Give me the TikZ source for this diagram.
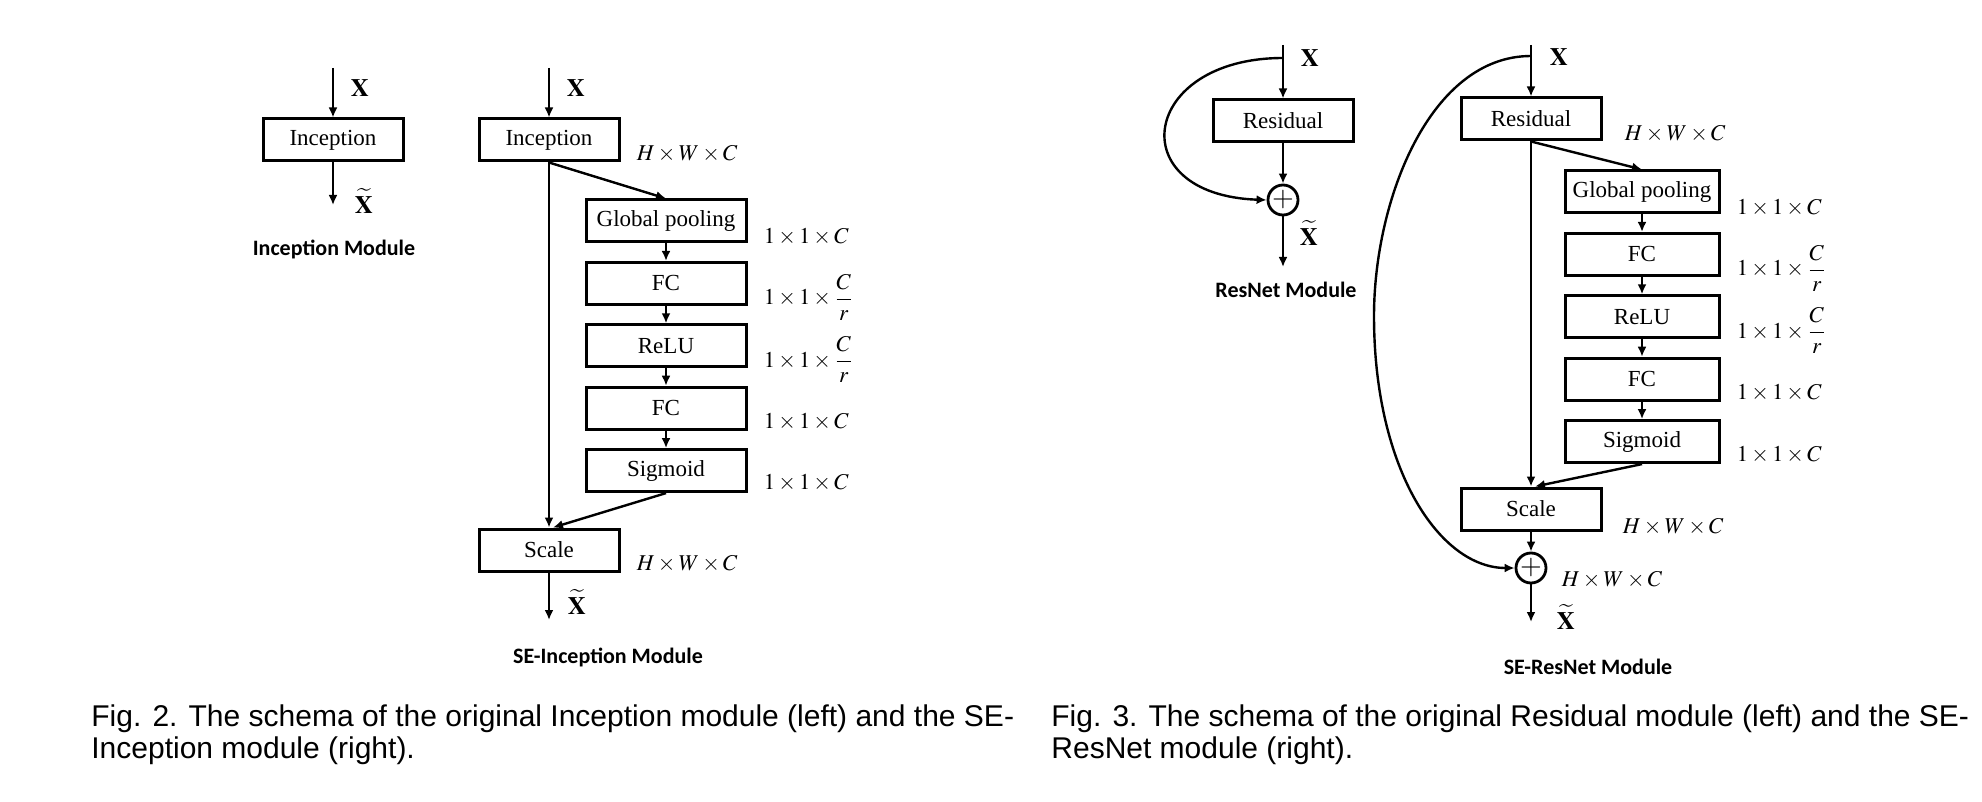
\documentclass[tikz,border=0pt]{standalone}
\usepackage{amsmath}
\usepackage{mathptmx}
\usepackage[no-math]{fontspec}
\setmainfont{Liberation Serif}
\newfontfamily\capfont{Liberation Sans}
\newfontfamily\titlefont{Carlito}
\usetikzlibrary{arrows.meta,calc,positioning}
\tikzset{
  seblock/.style={draw, line width=1.5pt, minimum width=70pt, minimum height=21pt, inner sep=2pt, align=center, font=\fontsize{11.5}{13}\selectfont},
  sewide/.style={seblock, minimum width=80pt},
  sesum/.style={draw, circle, line width=1.4pt, minimum size=15pt, inner sep=0pt, font=\fontsize{14}{14}\selectfont},
  searrow/.style={-{Latex[length=5pt,width=4.5pt]}, line width=1.2pt},
  sedim/.style={font=\fontsize{11.3}{13}\selectfont, inner sep=1pt},
  sevar/.style={font=\fontsize{12.5}{14}\selectfont, inner sep=0pt},
  setitle/.style={font=\titlefont\bfseries\fontsize{11}{13}\selectfont, inner sep=0pt},
  secaption/.style={font=\capfont\fontsize{15}{16}\selectfont, align=left, anchor=north west, inner sep=0pt}
}

\begin{document}
\begin{tikzpicture}[x=0.5pt, y=-0.5pt, node distance=8.7pt and 7pt]
  \useasboundingbox (0,0) rectangle (1982,802);
  % Inception module
  \node[seblock] (inc) at (333,140) {Inception};
  \coordinate (incin) at (333,68);
  \coordinate (incout) at (333,205);
  \draw[searrow] (incin) -- (inc);
  \draw[searrow] (inc) -- (incout);
  \node[sevar] (incx) at (360,88) {$\mathbf{X}$};
  \node[sevar] (incxt) at (364,201) {$\widetilde{\mathbf{X}}$};
  \node[setitle] (inctitle) at (334,249) {Inception Module};

  % SE-Inception module
  \node[seblock] (seinc) at (549,140) {Inception};
  \coordinate (seincin) at (549,68);
  \node[sevar] (seincx) at (576,88) {$\mathbf{X}$};
  \node[sedim, right=7pt of seinc, yshift=-7pt] (seincdim) {$H\times W\times C$};
  \node[sewide] (gp) at (666,221) {Global pooling};
  \node[sewide, below=of gp] (fc) {FC};
  \node[sewide, below=of fc] (relu) {ReLU};
  \node[sewide, below=of relu] (fcb) {FC};
  \node[sewide, below=of fcb] (sig) {Sigmoid};
  \node[sedim, right=of gp, yshift=-8pt] (gpdim) {$1\times 1\times C$};
  \node[sedim, right=of fc, yshift=-7pt] (fcdim) {$1\times 1\times \dfrac{C}{r}$};
  \node[sedim, right=of relu, yshift=-7pt] (reludim) {$1\times 1\times \dfrac{C}{r}$};
  \node[sedim, right=of fcb, yshift=-7pt] (fcbdim) {$1\times 1\times C$};
  \node[sedim, right=of sig, yshift=-6pt] (sigdim) {$1\times 1\times C$};
  \node[seblock] (scale) at (549,550) {Scale};
  \node[sedim, right=7pt of scale, yshift=-7pt] (scaledim) {$H\times W\times C$};
  \coordinate (seincout) at (549,620);
  \draw[searrow] (seincin) -- (seinc);
  \draw[searrow] (seinc.south) -- (gp.north);
  \draw[searrow] (gp) -- (fc);
  \draw[searrow] (fc) -- (relu);
  \draw[searrow] (relu) -- (fcb);
  \draw[searrow] (fcb) -- (sig);
  \draw[searrow] (seinc.south) -- (scale.north);
  \draw[searrow] (sig.south) -- ([xshift=2pt]scale.north);
  \draw[searrow] (scale) -- (seincout);
  \node[sevar] (seincxt) at (577,602) {$\widetilde{\mathbf{X}}$};
  \node[setitle] (seinctitle) at (608,657) {SE-Inception Module};

  % ResNet module
  \node[seblock] (res) at (1283,121) {Residual};
  \coordinate (resin) at (1283,45);
  \coordinate (restap) at (1283,58);
  \node[sesum] (ressum) at (1283,200) {$+$};
  \coordinate (resout) at (1283,267);
  \draw[searrow] (resin) -- (res);
  \draw[searrow] (res) -- (ressum);
  \draw[searrow] (ressum) -- (resout);
  \draw[searrow] (restap) .. controls (1140,58) and (1120,195) .. (ressum.west);
  \node[sevar] (resx) at (1310,58) {$\mathbf{X}$};
  \node[sevar] (resxt) at (1309,233) {$\widetilde{\mathbf{X}}$};
  \node[setitle] (restitle) at (1286,290) {ResNet Module};

  % SE-ResNet module
  \node[seblock] (seres) at (1531,119) {Residual};
  \coordinate (seresin) at (1531,45);
  \coordinate (serestap) at (1531,56);
  \node[sevar] (seresx) at (1559,57) {$\mathbf{X}$};
  \node[sedim, right=10pt of seres, yshift=-7.5pt] (seresdim) {$H\times W\times C$};
  \node[sewide, minimum width=77pt] (gp2) at (1642,192) {Global pooling};
  \node[sewide, minimum width=77pt, below=of gp2] (fc2) {FC};
  \node[sewide, minimum width=77pt, below=of fc2] (relu2) {ReLU};
  \node[sewide, minimum width=77pt, below=of relu2] (fcb2) {FC};
  \node[sewide, minimum width=77pt, below=of fcb2] (sig2) {Sigmoid};
  \node[sedim, right=of gp2, yshift=-8pt] (gp2dim) {$1\times 1\times C$};
  \node[sedim, right=of fc2, yshift=-7pt] (fc2dim) {$1\times 1\times \dfrac{C}{r}$};
  \node[sedim, right=of relu2, yshift=-7pt] (relu2dim) {$1\times 1\times \dfrac{C}{r}$};
  \node[sedim, right=of fcb2, yshift=-7pt] (fcb2dim) {$1\times 1\times C$};
  \node[sedim, right=of sig2, yshift=-6.5pt] (sig2dim) {$1\times 1\times C$};
  \node[seblock] (scale2) at (1531,509) {Scale};
  \node[sedim, right=9pt of scale2, yshift=-9pt] (scale2dim) {$H\times W\times C$};
  \node[sesum] (sesum) at (1531,568) {$+$};
  \node[sedim, right=6pt of sesum, yshift=-6pt] (sesumdim) {$H\times W\times C$};
  \coordinate (seresout) at (1531,622);
  \draw[searrow] (seresin) -- (seres);
  \draw[searrow] (seres.south) -- (gp2.north);
  \draw[searrow] (gp2) -- (fc2);
  \draw[searrow] (fc2) -- (relu2);
  \draw[searrow] (relu2) -- (fcb2);
  \draw[searrow] (fcb2) -- (sig2);
  \draw[searrow] (seres.south) -- (scale2.north);
  \draw[searrow] (sig2.south) -- ([xshift=2pt]scale2.north);
  \draw[searrow] (scale2) -- (sesum);
  \draw[searrow] (sesum) -- (seresout);
  \draw[searrow] (serestap) .. controls (1430,56) and (1374,200) .. (1374,316)
    .. controls (1374,470) and (1440,568) .. (sesum.west);
  \node[sevar] (seresxt) at (1566,617) {$\widetilde{\mathbf{X}}$};
  \node[setitle] (serestitle) at (1588,667) {SE-ResNet Module};

  % captions
  \node[secaption] (cap2) at (91,704) {Fig. 2. The schema of the original Inception module (left) and the SE-\\Inception module (right).};
  \node[secaption] (cap3) at (1051,704) {Fig. 3. The schema of the original Residual module (left) and the SE-\\ResNet module (right).};
\end{tikzpicture}
\end{document}
